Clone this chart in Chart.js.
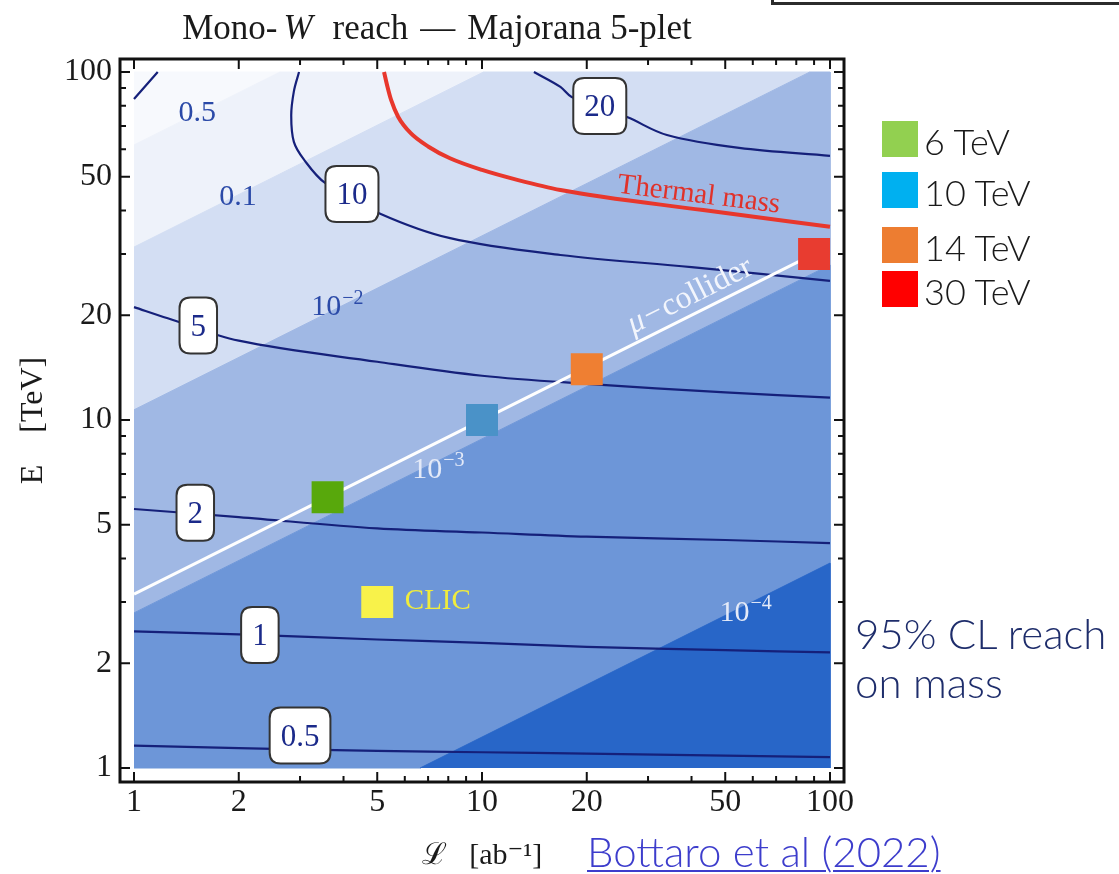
<!DOCTYPE html>
<html>
<head>
<meta charset="utf-8">
<title>Mono-W reach — Majorana 5-plet</title>
<script src="https://cdn.jsdelivr.net/npm/chart.js@4.4.1/dist/chart.umd.min.js"></script>
<style>
  html, body { margin: 0; padding: 0; background: #fff; overflow: hidden; }
  #wrap { position: relative; width: 1119px; height: 874px; overflow: hidden; }
  #chart { position: absolute; left: 0; top: 0; }
  .corner-box { position: absolute; left: 771px; top: -20px; width: 400px; height: 19px; border: 3px solid #2b2b2b; }
  .sw { position: absolute; left: 882px; width: 36px; height: 36px; }
  .lg { position: absolute; left: 924px; font-family: Lato, "Open Sans", sans-serif; font-weight: 300; font-size: 36px; line-height: 36px; color: #1a1a1a; white-space: nowrap; }
  .note { position: absolute; left: 855px; top: 609px; font-family: Lato, "Open Sans", sans-serif; font-weight: 300; font-size: 42px; line-height: 49px; color: #1e2d6b; white-space: nowrap; }
  .ref { position: absolute; left: 587px; top: 830px; font-family: Lato, "Open Sans", sans-serif; font-weight: 300; font-size: 42px; line-height: 42px; color: #3d3dcc; text-decoration: underline; text-decoration-thickness: 2px; text-underline-offset: 3px; white-space: nowrap; }
</style>
</head>
<body>
<div id="wrap">
  <canvas id="chart" width="1119" height="874"></canvas>
  <div class="corner-box"></div>
  <div id="legend"></div>
  <div class="note">95% CL reach<br>on mass</div>
  <a class="ref">Bottaro et al (2022)</a>
</div>
<script>
// ---- axis ticks -----------------------------------------------------------
const tickValues = [1, 2, 3, 4, 5, 6, 7, 8, 9, 10, 20, 30, 40, 50, 60, 70, 80, 90, 100];
const labelledTicks = [1, 2, 5, 10, 20, 50, 100];

// ---- shaded bands: contour edges (L [ab^-1], E [TeV]) where they enter / leave the box
const bandLevels = ['0.5', '0.1', '10^-2', '10^-3', '10^-4'];
const edgeStart = [[1, 61.7], [1, 31.4], [1, 10.7], [1, 2.79], [6.64, 1]];
const edgeEnd   = [[2.63, 100], [10.1, 100], [87.5, 100], [100, 27.9], [100, 3.88]];
const bandColors = ['#f7f9fd', '#eef2fa', '#d3def3', '#a0b8e4', '#6d96d8', '#2866c8'];

// ---- mass-reach contours (TeV) --------------------------------------------
const reachLevels = ['0.5', '1', '2', '5', '10', '20'];
const reach05L = [1, 2, 5, 10, 20, 50, 100];
const reach05E = [1.16, 1.14, 1.12, 1.11, 1.10, 1.085, 1.075];
const reach1L  = [1, 2, 5, 10, 20, 50, 100];
const reach1E  = [2.47, 2.42, 2.34, 2.29, 2.23, 2.18, 2.15];
const reach2L  = [1, 2, 5, 10, 20, 50, 100];
const reach2E  = [5.55, 5.26, 4.88, 4.75, 4.62, 4.52, 4.43];
const reach5L  = [1, 1.25, 2, 5, 10, 20, 50, 100];
const reach5E  = [21.1, 19.6, 16.9, 14.7, 13.4, 12.7, 12.0, 11.6];
const reach10L = [2.98, 2.88, 2.83, 2.88, 3.08, 3.54, 5.06, 8.1, 16.8, 40, 100];
const reach10E = [100, 88, 75, 63, 56, 48, 39.3, 33.3, 29.8, 27.5, 25.1];
const reach20L = [14.1, 16.8, 18.1, 26.1, 34.0, 54.8, 100];
const reach20E = [100, 90.6, 84.8, 74.2, 65.9, 60.5, 57.4];
const cornerL  = [1.0, 1.17];
const cornerE  = [83.6, 100];

// ---- thermal mass ---------------------------------------------------------
const thermalL = [5.23, 5.35, 5.48, 5.74, 6.24, 7.02, 8.09, 10, 12.7, 16.8, 43.2, 100];
const thermalE = [100, 90.7, 83.1, 74.4, 66.7, 61.0, 56.5, 52.3, 48.9, 45.8, 40.1, 35.9];

// ---- muon collider benchmarks ----------------------------------------------
const muLineL = [1, 90];
const muLineE = [3.16, 30];
const colliderNames = ['6 TeV', '10 TeV', '14 TeV', '30 TeV'];
const colliderL = [3.6, 10, 20, 90];
const colliderE = [6, 10, 14, 30];
const colliderColors = ['#58a80c', '#4a92c8', '#ef7f32', '#e83c30'];
const legendColors = ['#92d050', '#00b0f0', '#ed7d31', '#ff0000'];
const clicL = [5];
const clicE = [3];

// ---- label anchors (L, E) -------------------------------------------------
const bandLabelAt  = [[1.52, 77.3], [1.99, 44.3], [3.83, 21.4], [7.47, 7.28], [57.0, 2.83]];
const reachLabelAt = [[3.0, 1.24], [2.30, 2.41], [1.50, 5.41], [1.53, 18.7], [4.23, 44.6], [21.8, 79.8]];
const thermalLabelAt = [42.0, 44.3];
const muLabelAt = [39.6, 22.7];
const clicLabelAt = [6.0, 3.02];

// ---------------------------------------------------------------------------
const pts = (xs, ys) => xs.map((v, i) => ({ x: v, y: ys[i] }));
const pairPts = arr => arr.map(([x, y]) => ({ x, y }));

const bandShapes = [
  [[1, 100], edgeEnd[0], edgeStart[0]],
  [edgeStart[0], edgeEnd[0], edgeEnd[1], edgeStart[1]],
  [edgeStart[1], edgeEnd[1], edgeEnd[2], edgeStart[2]],
  [edgeStart[2], edgeEnd[2], [100, 100], edgeEnd[3], edgeStart[3]],
  [edgeStart[3], edgeEnd[3], edgeEnd[4], edgeStart[4], [1, 1]],
  [edgeStart[4], edgeEnd[4], [100, 1]]
];

const SERIF = '"Liberation Serif", "Times New Roman", "DejaVu Serif", serif';
const NAVY = '#15207a';

const datasets = [];
bandShapes.forEach((shape, i) => {
  datasets.push({
    data: pairPts(shape), showLine: true, fill: 'shape',
    backgroundColor: bandColors[i], borderColor: bandColors[i], borderWidth: 1,
    pointRadius: 0, tension: 0, order: 100 - i
  });
});
const contour = (xs, ys) => ({
  data: pts(xs, ys), showLine: true, fill: false, borderColor: NAVY, borderWidth: 2.2,
  pointRadius: 0, tension: 0.35, order: 20
});
[[reach05L, reach05E], [reach1L, reach1E], [reach2L, reach2E], [reach5L, reach5E],
 [reach10L, reach10E], [reach20L, reach20E], [cornerL, cornerE]].forEach(([a, b]) => datasets.push(contour(a, b)));
datasets.push({
  data: pts(thermalL, thermalE), showLine: true, fill: false, borderColor: '#e8372c', borderWidth: 4,
  pointRadius: 0, cubicInterpolationMode: 'monotone', order: 15
});
datasets.push({
  data: pts(muLineL, muLineE), showLine: true, fill: false, borderColor: '#ffffff', borderWidth: 3,
  pointRadius: 0, tension: 0, order: 12
});
datasets.push({
  data: pts(colliderL, colliderE), showLine: false, pointStyle: 'rect', pointRadius: 22.6,
  backgroundColor: colliderColors, borderWidth: 0, order: 2
});
datasets.push({
  data: pts(clicL, clicE), showLine: false, pointStyle: 'rect', pointRadius: 22.6,
  backgroundColor: '#f8f24a', borderWidth: 0, order: 2
});

// 10^n style label: base plus raised exponent, centred at (cx, cy)
function drawLevel(ctx, text, cx, cy, size, color) {
  ctx.fillStyle = color;
  ctx.textBaseline = 'alphabetic';
  ctx.textAlign = 'left';
  const base = cy + size * 0.33;
  if (text.includes('^')) {
    const [b, e] = text.split('^');
    const exp = e.replace('-', '\u2212');
    ctx.font = `${size}px ${SERIF}`;
    const wb = ctx.measureText(b).width;
    const es = Math.round(size * 0.68);
    ctx.font = `${es}px ${SERIF}`;
    const we = ctx.measureText(exp).width;
    const x0 = cx - (wb + we) / 2;
    ctx.font = `${size}px ${SERIF}`;
    ctx.fillText(b, x0, base);
    ctx.font = `${es}px ${SERIF}`;
    ctx.fillText(exp, x0 + wb + 1, base - size * 0.38);
  } else {
    ctx.font = `${size}px ${SERIF}`;
    ctx.textAlign = 'center';
    ctx.fillText(text, cx, base);
  }
}

function roundRect(ctx, x, y, w, h, r) {
  ctx.beginPath();
  ctx.moveTo(x + r, y);
  ctx.lineTo(x + w - r, y); ctx.quadraticCurveTo(x + w, y, x + w, y + r);
  ctx.lineTo(x + w, y + h - r); ctx.quadraticCurveTo(x + w, y + h, x + w - r, y + h);
  ctx.lineTo(x + r, y + h); ctx.quadraticCurveTo(x, y + h, x, y + h - r);
  ctx.lineTo(x, y + r); ctx.quadraticCurveTo(x, y, x + r, y);
  ctx.closePath();
}

// text made of styled pieces, rotated about its centre
function drawPieces(ctx, pieces, cx, cy, angle, color) {
  ctx.save();
  ctx.translate(cx, cy);
  ctx.rotate(angle);
  ctx.fillStyle = color;
  ctx.textBaseline = 'middle';
  ctx.textAlign = 'left';
  let total = 0;
  pieces.forEach(p => { ctx.font = p.font; p.w = ctx.measureText(p.text).width; total += p.w + (p.gap || 0); });
  let x = -total / 2;
  pieces.forEach(p => { x += (p.gap || 0); ctx.font = p.font; ctx.fillText(p.text, x, 0); x += p.w; });
  ctx.restore();
}

const annotate = {
  id: 'annotate',
  afterDatasetsDraw(chart) {
    const { ctx, scales: { x, y } } = chart;
    ctx.save();
    // band levels
    bandLevels.forEach((t, i) => {
      const [l, e] = bandLabelAt[i];
      drawLevel(ctx, t, x.getPixelForValue(l), y.getPixelForValue(e), 30, i < 3 ? '#2b4aa8' : '#e4eaf8');
    });
    // reach contour labels in boxes
    reachLevels.forEach((t, i) => {
      const [l, e] = reachLabelAt[i];
      const cx = x.getPixelForValue(l), cy = y.getPixelForValue(e);
      ctx.font = `31px ${SERIF}`;
      const w = ctx.measureText(t).width + 22, h = 56;
      roundRect(ctx, cx - w / 2, cy - h / 2, w, h, 11);
      ctx.fillStyle = '#ffffff';
      ctx.fill();
      ctx.lineWidth = 2;
      ctx.strokeStyle = '#333333';
      ctx.stroke();
      drawLevel(ctx, t, cx, cy, 31, '#1b2a8a');
    });
    // thermal mass
    drawPieces(ctx, [{ text: 'Thermal mass', font: `29px ${SERIF}` }],
      x.getPixelForValue(thermalLabelAt[0]), y.getPixelForValue(thermalLabelAt[1]), 0.124, '#e0322a');
    // mu-collider
    drawPieces(ctx, [
      { text: '\u03bc', font: `italic 32px ${SERIF}` },
      { text: '\u2212', font: `32px ${SERIF}`, gap: 2 },
      { text: 'collider', font: `32px ${SERIF}`, gap: 2 }
    ], x.getPixelForValue(muLabelAt[0]), y.getPixelForValue(muLabelAt[1]), -Math.atan(0.5), '#f2f5fc');
    // CLIC
    ctx.font = `29px ${SERIF}`;
    ctx.fillStyle = '#f0ec3c';
    ctx.textAlign = 'left';
    ctx.textBaseline = 'middle';
    ctx.fillText('CLIC', x.getPixelForValue(clicLabelAt[0]), y.getPixelForValue(clicLabelAt[1]));
    ctx.restore();
  },
  afterDraw(chart) {
    const { ctx, chartArea: a, scales: { x, y } } = chart;
    ctx.save();
    ctx.strokeStyle = '#111111';
    ctx.lineWidth = 2;
    ctx.beginPath();
    tickValues.forEach(v => {
      const len = labelledTicks.includes(v) ? 10 : 6;
      const px = x.getPixelForValue(v);
      ctx.moveTo(px, a.bottom); ctx.lineTo(px, a.bottom - len);
      ctx.moveTo(px, a.top); ctx.lineTo(px, a.top + len);
      const py = y.getPixelForValue(v);
      ctx.moveTo(a.left, py); ctx.lineTo(a.left + len, py);
      ctx.moveTo(a.right, py); ctx.lineTo(a.right - len, py);
    });
    ctx.stroke();
    ctx.lineWidth = 3;
    ctx.strokeRect(a.left, a.top, a.right - a.left, a.bottom - a.top);

    // title
    const f = `35px ${SERIF}`, fi = `italic 35px ${SERIF}`;
    const pieces = [
      { text: 'Mono-', font: f, gap: 0 },
      { text: 'W', font: fi, gap: 6 },
      { text: 'reach', font: f, gap: 20 },
      { text: '\u2014', font: f, gap: 12 },
      { text: 'Majorana 5-plet', font: f, gap: 12 }
    ];
    drawPieces(ctx, pieces, 437, 30, 0, '#1a1a1a');
    ctx.restore();
  }
};

const axisFont = { family: SERIF, size: 32 };
const decade = 348;   // px per decade of the plotted box
new Chart(document.getElementById('chart'), {
  type: 'scatter',
  data: { datasets },
  options: {
    responsive: false,
    devicePixelRatio: 1,
    animation: false,
    events: [],
    layout: { padding: { left: 0, top: 59, right: 275, bottom: 0 } },
    plugins: { legend: { display: false }, tooltip: { enabled: false }, title: { display: false } },
    scales: {
      x: {
        type: 'logarithmic',
        min: Math.pow(10, -14 / decade), max: Math.pow(10, 2 + 14 / decade),
        afterBuildTicks: s => { s.ticks = labelledTicks.map(v => ({ value: v })); },
        afterFit: s => { s.height = 92; },
        grid: { display: false, drawTicks: false },
        border: { display: false },
        ticks: { autoSkip: false, maxRotation: 0, padding: 1, color: '#1a1a1a', font: axisFont, callback: v => String(v) },
        title: { display: true, text: '\u2112   [ab\u207b\u00b9]', color: '#1a1a1a', font: { family: SERIF, size: 30 }, padding: 0 }
      },
      y: {
        type: 'logarithmic',
        min: Math.pow(10, -14 / decade), max: Math.pow(10, 2 + 13 / decade),
        afterBuildTicks: s => { s.ticks = labelledTicks.map(v => ({ value: v })); },
        afterFit: s => { s.width = 120; },
        grid: { display: false, drawTicks: false },
        border: { display: false },
        ticks: { autoSkip: false, padding: 8, color: '#1a1a1a', font: axisFont, callback: v => String(v) },
        title: { display: true, text: 'E    [TeV]', color: '#1a1a1a', font: { family: SERIF, size: 32 }, padding: { top: 14, bottom: 0 } }
      }
    }
  },
  plugins: [annotate]
});

// slide legend for the benchmark energies
const legendTops = [121, 172, 227, 271];
const legend = document.getElementById('legend');
colliderNames.forEach((name, i) => {
  const sw = document.createElement('div');
  sw.className = 'sw';
  sw.style.top = legendTops[i] + 'px';
  sw.style.background = legendColors[i];
  legend.appendChild(sw);
  const lg = document.createElement('div');
  lg.className = 'lg';
  lg.style.top = (legendTops[i] + 2) + 'px';
  lg.textContent = name;
  legend.appendChild(lg);
});
</script>
</body>
</html>
